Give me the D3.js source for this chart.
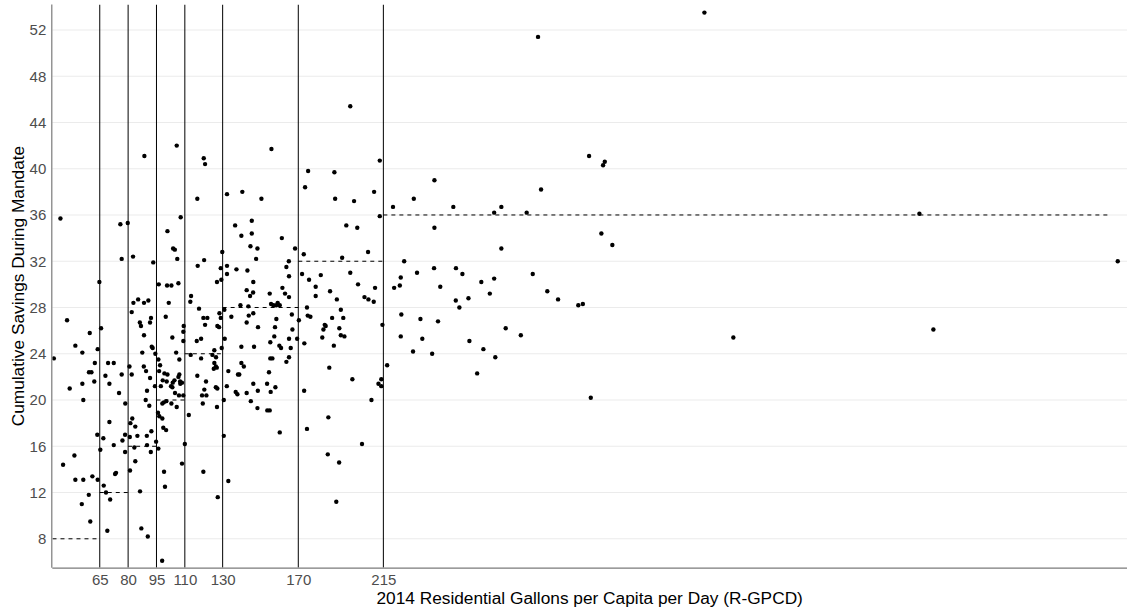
<!DOCTYPE html>
<html>
<head>
<meta charset="utf-8">
<script src="https://cdn.jsdelivr.net/npm/d3@7"></script>
<style>
  html, body { margin: 0; padding: 0; background: #ffffff; }
  svg { display: block; font-family: "Liberation Sans", Arial, sans-serif; }
</style>
</head>
<body>
<svg id="chart" width="1127" height="611"></svg>
<script>
// 2014 residential gallons per capita per day, one entry per supplier
const gpcd = [
  88.6,44.2,75.9,79.8,100.8,76.6,82.6,93.3,64.8,96.2,
  100.6,82.8,85.3,88.4,90.7,101.5,81.9,47.7,86.2,86.8,
  92.1,91.6,99.9,65.7,59.7,88.4,52.1,55.8,63.9,92.5,
  93.0,87.5,94.4,40.7,
  96.0,62.4,69.4,72.4,80.7,88.3,96.9,59.3,60.6,68.0,
  76.6,81.9,89.5,96.4,99.2,100.8,91.6,98.3,100.4,55.8,
  62.1,70.1,94.2,97.3,49.1,90.0,75.2,56.3,89.3,98.9,
  100.2,98.1,78.5,91.2,95.8,96.5,98.1,82.2,81.2,70.1,
  83.8,98.6,100.1,92.3,63.7,78.4,66.9,80.9,84.9,89.9,
  77.0,94.8,72.4,83.3,90.0,96.0,65.3,78.4,92.0,51.6,
  83.8,45.6,81.0,73.6,73.1,99.0,61.1,63.9,52.1,56.3,
  99.5,67.1,59.2,68.3,86.3,70.5,55.5,60.0,69.0,87.0,
  90.4,98.0,
  105.7,120.0,120.7,155.8,116.6,132.3,140.4,150.5,107.8,136.6,
  145.4,139.9,145.4,161.3,144.7,148.4,103.8,104.7,106.0,147.7,
  116.8,120.2,129.8,132.3,129.0,137.3,143.1,163.7,165.0,165.1,
  132.3,102.9,106.6,127.0,129.3,146.2,142.7,146.1,144.5,154.9,
  161.6,163.0,165.1,113.3,112.9,117.5,130.9,139.4,143.6,155.6,
  156.8,158.3,159.1,160.2,128.3,129.0,134.6,143.8,146.2,142.7,
  158.4,119.8,121.9,120.7,127.2,128.1,148.7,157.7,109.4,109.2,
  103.4,109.2,116.3,118.6,131.1,155.2,157.3,165.1,139.9,146.6,
  160.0,160.9,129.5,105.4,125.6,113.1,118.6,124.6,126.5,107.1,
  155.2,156.3,165.1,
  163.7,139.9,141.2,125.6,126.4,125.3,126.9,133.0,138.1,138.8,
  154.5,107.1,106.6,116.6,121.2,104.5,103.6,107.5,108.5,107.6,
  102.7,103.4,126.4,127.2,132.2,146.2,153.5,157.9,136.9,137.8,
  142.7,148.6,155.4,120.3,104.8,106.9,109.2,119.1,121.4,102.9,
  105.7,119.5,127.0,130.6,144.9,148.4,153.6,154.9,112.1,130.6,
  160.2,110.0,108.5,119.8,133.0,127.4,
  197.5,213.1,175.2,189.1,173.6,210.1,189.5,199.5,220.1,213.1,
  195.4,201.2,168.3,172.9,193.2,206.9,226.0,172.0,175.7,181.9,
  197.5,179.2,179.2,186.8,190.4,201.6,210.6,205.0,207.1,209.9,
  220.7,223.7,224.2,174.6,175.0,176.4,166.6,170.3,192.5,187.9,
  193.8,184.0,184.5,183.3,191.7,214.5,224.5,166.9,
  182.7,192.5,194.4,169.4,173.2,188.8,224.2,166.0,186.4,198.6,
  217.0,213.9,212.4,213.9,173.1,208.7,185.9,174.6,203.7,185.6,
  191.6,190.1,
  384.8,296.8,323.8,331.2,332.1,242.0,231.1,298.4,252.0,277.4,
  273.6,290.8,242.0,330.3,336.1,277.4,232.8,241.8,253.4,256.8,
  245.1,266.8,273.6,294.0,271.3,301.7,307.4,318.1,320.5,253.3,
  255.2,260.0,234.6,243.9,279.7,287.7,235.6,260.5,230.7,240.8,
  267.9,274.2,264.6,324.7,
  498.5,603.4,400.1,505.9
];

// Cumulative savings (%) during the mandate, same order as gpcd
const savings = [
  41.1,35.7,35.2,35.3,34.6,32.2,32.4,31.9,30.2,30.0,
  29.9,28.4,28.7,28.4,28.6,28.4,27.6,26.9,26.7,26.4,
  27.1,26.7,27.2,26.2,25.8,25.6,24.7,24.1,24.4,24.6,
  24.5,24.1,24.0,23.6,
  23.5,23.2,23.2,23.2,22.9,22.9,23.0,22.4,22.4,22.1,
  22.2,22.2,22.5,22.5,22.3,22.2,21.9,21.7,21.6,21.4,
  21.6,21.4,21.2,21.2,21.0,20.8,20.6,20.0,20.0,19.8,
  19.9,19.7,19.7,19.5,18.9,18.6,18.4,18.4,18.0,18.1,
  17.7,17.6,17.4,17.3,17.0,17.0,16.7,16.8,16.9,16.9,
  16.5,16.4,16.1,15.9,16.1,15.8,15.7,15.5,15.5,15.2,
  14.7,14.4,13.9,13.7,13.6,13.8,13.4,13.1,13.1,13.1,
  12.5,12.6,11.8,12.0,12.1,11.4,11.0,9.5,8.7,8.9,
  8.2,6.1,
  42.0,40.9,40.4,41.7,37.4,37.8,38.0,37.4,35.8,35.1,
  35.5,34.2,34.4,34.0,33.3,33.1,33.1,33.0,32.2,32.2,
  31.6,32.1,32.8,31.6,31.4,31.3,31.2,31.5,32.0,30.7,
  30.9,29.9,30.1,30.2,30.4,30.2,29.5,29.3,29.0,29.2,
  29.7,29.2,28.9,29.0,28.5,27.9,27.8,28.2,28.1,28.3,
  28.2,28.2,28.4,28.2,27.5,27.1,27.2,27.3,27.5,26.7,
  27.0,27.1,27.1,26.5,26.4,26.3,26.3,26.3,26.4,25.9,
  25.4,25.1,25.1,25.3,25.3,25.0,25.5,25.3,24.6,24.6,
  24.7,24.5,24.5,24.1,24.3,23.9,23.6,23.9,23.7,23.5,
  23.6,23.6,23.7,
  23.3,23.2,22.9,23.2,22.9,22.7,22.8,22.5,22.2,22.2,
  22.4,22.2,22.0,22.1,21.6,21.7,21.5,21.6,21.5,21.4,
  21.2,21.1,21.1,21.0,21.2,21.4,21.4,21.1,20.7,20.5,
  20.6,20.8,20.7,20.9,20.6,20.4,20.4,20.4,20.4,19.7,
  19.4,19.7,19.4,20.0,19.9,19.3,19.1,19.1,18.7,16.9,
  17.2,16.2,14.5,13.8,13.0,11.6,
  45.4,40.7,39.8,39.7,38.4,38.0,37.4,37.2,36.7,35.9,
  35.1,34.9,33.1,32.6,32.3,32.8,32.0,30.9,30.4,30.8,
  31.0,29.8,29.0,29.4,28.7,30.0,29.7,28.9,28.7,28.5,
  29.7,29.9,30.6,28.0,27.3,27.2,27.4,26.9,27.8,27.1,
  27.1,26.5,26.4,26.1,26.2,26.5,27.4,26.1,
  25.4,25.6,25.5,25.3,24.9,24.7,25.5,24.5,22.8,21.8,
  23.0,21.8,21.4,21.2,20.8,20.0,18.5,17.5,16.2,15.3,
  14.6,11.2,
  53.5,51.4,41.1,40.3,40.6,39.0,37.4,38.2,36.7,36.7,
  36.2,36.2,34.9,34.4,33.4,33.1,31.0,31.4,31.4,30.9,
  29.8,30.2,30.5,30.9,29.2,29.4,28.7,28.2,28.3,28.6,
  28.0,28.8,27.0,26.8,26.2,25.6,25.3,25.1,24.2,24.0,
  24.4,23.7,22.3,20.2,
  36.1,32.0,25.4,26.1
];

// Conservation tiers: R-GPCD boundaries and the savings standard for each band
const tierBreaks  = [65, 80, 95, 110, 130, 170, 215];
const tierBounds  = [40, 65, 80, 95, 110, 130, 170, 215, 600];
const tierTargets = [8, 12, 16, 20, 24, 28, 32, 36];

// Axis ticks and limits
const xTickValues = [65, 80, 95, 110, 130, 170, 215];
const yTickValues = [8, 12, 16, 20, 24, 28, 32, 36, 40, 44, 48, 52];
const xLimits = [39.9, 608.3];
const yLimits = [5.5, 54.2];

const xTitle = "2014 Residential Gallons per Capita per Day (R-GPCD)";
const yTitle = "Cumulative Savings During Mandate";

const W = 1127, H = 611;
const margin = { top: 4.5, right: 0, bottom: 43.3, left: 52.3 };
const innerW = W - margin.left - margin.right;
const innerH = H - margin.top - margin.bottom;

const svg = d3.select("#chart");
const g = svg.append("g").attr("transform", `translate(${margin.left},${margin.top})`);

const x = d3.scaleLinear().domain(xLimits).range([0, innerW]);
const y = d3.scaleLinear().domain(yLimits).range([innerH, 0]);

svg.append("defs").append("clipPath").attr("id", "panel")
  .append("rect").attr("x", 0).attr("y", 0).attr("width", innerW).attr("height", innerH);

// horizontal grid
g.append("g")
  .selectAll("line")
  .data(yTickValues)
  .join("line")
  .attr("x1", 0).attr("x2", innerW)
  .attr("y1", d => y(d)).attr("y2", d => y(d))
  .attr("stroke", "#ebebeb")
  .attr("stroke-width", 1.1);

const panel = g.append("g").attr("clip-path", "url(#panel)");

// tier boundaries
panel.append("g")
  .selectAll("line")
  .data(tierBreaks)
  .join("line")
  .attr("x1", d => x(d)).attr("x2", d => x(d))
  .attr("y1", 0).attr("y2", innerH)
  .attr("stroke", "#000")
  .attr("stroke-width", 1);

// savings standard for each tier
panel.append("g")
  .selectAll("line")
  .data(tierTargets)
  .join("line")
  .attr("x1", (d, i) => x(tierBounds[i]))
  .attr("x2", (d, i) => x(tierBounds[i + 1]))
  .attr("y1", d => y(d)).attr("y2", d => y(d))
  .attr("stroke", "#000")
  .attr("stroke-width", 1)
  .attr("stroke-dasharray", "4,4");

// suppliers
const pts = gpcd.map((v, i) => ({ gpcd: v, savings: savings[i] }));
panel.append("g")
  .selectAll("circle")
  .data(pts)
  .join("circle")
  .attr("cx", d => x(d.gpcd))
  .attr("cy", d => y(d.savings))
  .attr("r", 2.2)
  .attr("fill", "#000");

// axes
const xAxis = d3.axisBottom(x).tickValues(xTickValues).tickSize(0).tickPadding(7).tickFormat(d3.format("d"));
const yAxis = d3.axisLeft(y).tickValues(yTickValues).tickSize(0).tickPadding(6).tickFormat(d3.format("d"));

const gx = g.append("g").attr("transform", `translate(0,${innerH})`).call(xAxis);
const gy = g.append("g").call(yAxis);

[gx, gy].forEach(a => {
  a.select(".domain").attr("stroke", "#7a7a7a").attr("stroke-width", 1.2);
  a.selectAll("text").attr("fill", "#4d4d4d").style("font-size", "15px")
    .style("font-family", "'Liberation Sans', Arial, sans-serif");
});
gx.select(".domain").attr("d", `M0,0.5H${innerW}`);
gy.select(".domain").attr("d", `M-0.5,0V${innerH}`);

// titles
svg.append("text")
  .attr("x", margin.left + innerW / 2)
  .attr("y", 604)
  .attr("text-anchor", "middle")
  .attr("fill", "#000")
  .style("font-size", "17.3px")
  .text(xTitle);

svg.append("text")
  .attr("transform", `translate(24,${margin.top + innerH / 2}) rotate(-90)`)
  .attr("text-anchor", "middle")
  .attr("fill", "#000")
  .style("font-size", "17.3px")
  .text(yTitle);
</script>
</body>
</html>
